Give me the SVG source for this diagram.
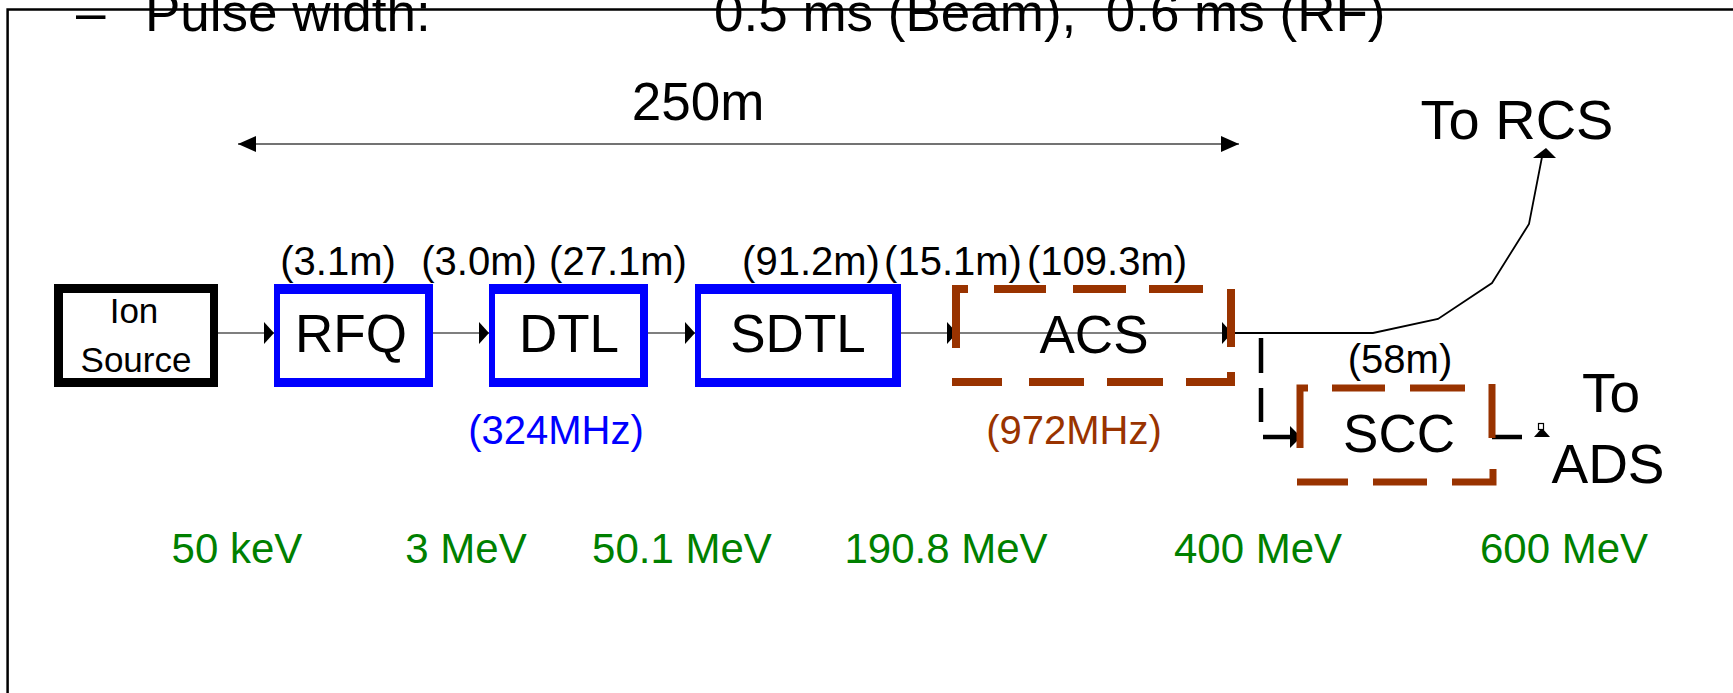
<svg xmlns="http://www.w3.org/2000/svg" width="1733" height="693" viewBox="0 0 1733 693">
<style>
text { font-family: "Liberation Sans", Arial, sans-serif; fill:#000; }
.big { font-size:53px; }
.mid { font-size:40px; }
.ion { font-size:35px; }
.green { font-size:42px; fill:#008000; }
.blueT { font-size:40px; fill:#0000FF; }
.brownT { font-size:40px; fill:#993300; }
.beam { stroke:#555; stroke-width:1.7; fill:none; }
.curve { stroke:#000; stroke-width:1.8; fill:none; }
.dim { stroke:#444; stroke-width:1.6; fill:none; }
.dash { stroke:#993300; stroke-width:8; fill:none; stroke-linecap:butt; stroke-linejoin:miter; }
.dashS { stroke:#993300; stroke-width:7; fill:none; stroke-linecap:butt; stroke-linejoin:miter; }
.blk { stroke:#000; stroke-width:4.5; fill:none; }
.frame { stroke:#000; stroke-width:2.5; fill:none; }
</style>
<defs>
<marker id="ah" markerUnits="userSpaceOnUse" markerWidth="10" markerHeight="22" viewBox="0 0 10 22" refX="10" refY="11" orient="auto">
<path d="M0,0 L10,11 L0,22 Z" fill="#000"/>
</marker>
<marker id="dh" markerUnits="userSpaceOnUse" markerWidth="18" markerHeight="16" viewBox="0 0 18 16" refX="18" refY="8" orient="auto-start-reverse">
<path d="M0,0 L18,8 L0,16 Z" fill="#000"/>
</marker>
</defs>

<g id="frame">
<path class="frame" d="M7.6 693 V9.5 H1733"/>
</g>

<g id="title">
<text class="big" y="31"><tspan x="76">–</tspan><tspan x="145">Pulse width:</tspan><tspan x="714" xml:space="preserve">0.5 ms (Beam),  0.6 ms (RF)</tspan></text>
</g>

<g id="connectors">
<path class="dim" d="M238 144 H1239" marker-start="url(#dh)" marker-end="url(#dh)"/>
<path class="beam" d="M218 333 H274" marker-end="url(#ah)"/>
<path class="beam" d="M433 333 H489" marker-end="url(#ah)"/>
<path class="beam" d="M648 333 H695" marker-end="url(#ah)"/>
<path class="beam" d="M901 333 H957" marker-end="url(#ah)"/>
<path class="beam" d="M957 333 H1232" marker-end="url(#ah)"/>
<path class="curve" d="M1232 333 H1373 L1438 319 L1492 283 L1529 224 L1542 157"/>
<polygon points="1533,158 1556,158 1546,148" fill="#000"/>
<path class="blk" d="M1261 338 V373 M1261 388 V422"/>
<path class="blk" d="M1263 437 H1291"/>
<polygon points="1290,426 1301,437 1290,448" fill="#000"/>
<path class="blk" d="M1492 437 H1522"/>
<polygon points="1534,437 1550,437 1542,428" fill="#000"/>
<rect x="1538.5" y="423.5" width="5" height="6" fill="#fff" stroke="#000" stroke-width="1.2"/>
</g>

<g id="dimension-label">
<text class="big" x="698" y="120" text-anchor="middle">250m</text>
</g>

<g id="ion-source">
<rect x="54" y="284" width="164" height="103" fill="#000"/>
<rect x="63" y="293" width="147" height="85" fill="#fff"/>
<text class="ion" x="134" y="323" text-anchor="middle">Ion</text>
<text class="ion" x="136" y="372" text-anchor="middle">Source</text>
</g>

<g id="rfq">
<rect x="274" y="284" width="159" height="103" fill="#0000FF"/>
<rect x="280" y="294" width="145" height="84" fill="#fff"/>
<text class="big" x="351" y="352" text-anchor="middle">RFQ</text>
<text class="mid" x="338" y="275" text-anchor="middle">(3.1m)</text>
</g>

<g id="dtl">
<rect x="489" y="284" width="159" height="103" fill="#0000FF"/>
<rect x="495" y="294" width="145" height="84" fill="#fff"/>
<text class="big" x="569" y="352" text-anchor="middle">DTL</text>
<text class="mid" x="479" y="275" text-anchor="middle">(3.0m)</text>
<text class="mid" x="618" y="275" text-anchor="middle">(27.1m)</text>
<text class="blueT" x="556" y="444" text-anchor="middle">(324MHz)</text>
</g>

<g id="sdtl">
<rect x="695" y="284" width="206" height="103" fill="#0000FF"/>
<rect x="701" y="294" width="191" height="84" fill="#fff"/>
<text class="big" x="798" y="352" text-anchor="middle">SDTL</text>
<text class="mid" x="811" y="275" text-anchor="middle">(91.2m)</text>
<text class="mid" x="953" y="275" text-anchor="middle">(15.1m)</text>
</g>

<g id="acs">
<path class="dash" d="M956 348 V289 H968 M994 289 H1046 M1073 289 H1126 M1149 289 H1203 M1231 289 V347 M952 382 H1002 M1029 382 H1084 M1107 382 H1163 M1186 382 H1231 V372"/>
<text class="big" x="1094" y="353" text-anchor="middle">ACS</text>
<text class="mid" x="1107" y="275" text-anchor="middle">(109.3m)</text>
<text class="brownT" x="1074" y="444" text-anchor="middle">(972MHz)</text>
</g>

<g id="scc">
<path class="dashS" d="M1300 448 V388 H1308 M1332 388 H1385 M1410 388 H1465 M1492 384 V438 M1297 482 H1348 M1373 482 H1427 M1452 482 H1493 V469"/>
<text class="big" x="1399" y="452" text-anchor="middle">SCC</text>
<text class="mid" x="1400" y="373" text-anchor="middle">(58m)</text>
</g>

<g id="to-rcs">
<text x="1517" y="139" text-anchor="middle" style="font-size:56px">To RCS</text>
</g>

<g id="to-ads">
<text x="1611" y="412" text-anchor="middle" style="font-size:55px">To</text>
<text x="1608" y="483" text-anchor="middle" style="font-size:55px">ADS</text>
</g>

<g id="energies">
<text class="green" x="237" y="563" text-anchor="middle">50 keV</text>
<text class="green" x="466" y="563" text-anchor="middle">3 MeV</text>
<text class="green" x="682" y="563" text-anchor="middle">50.1 MeV</text>
<text class="green" x="946" y="563" text-anchor="middle">190.8 MeV</text>
<text class="green" x="1258" y="563" text-anchor="middle">400 MeV</text>
<text class="green" x="1564" y="563" text-anchor="middle">600 MeV</text>
</g>
</svg>
